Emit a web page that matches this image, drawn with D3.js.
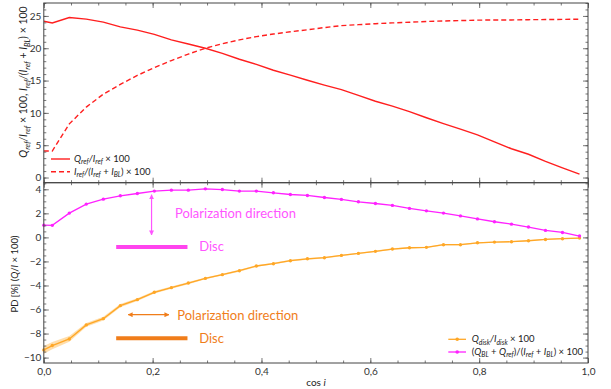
<!DOCTYPE html>
<html>
<head>
<meta charset="utf-8">
<script src="https://cdn.jsdelivr.net/npm/d3@7"></script>
<style>
  body { margin: 0; background: #fff; }
  svg { display: block; }
  .tick line { stroke: #555; stroke-width: 0.8; }
  .tick text { fill: #333; font-family: Lato, "Open Sans", sans-serif; font-size: 10px; }
</style>
</head>
<body>
<svg id="chart" width="611" height="389"></svg>
<script>
// cos i bin centres (first point repeats the innermost bin at cos i = 0)
const cosI = [0, 0.0156, 0.0469, 0.0781, 0.1094, 0.1406, 0.1719, 0.2031, 0.2344, 0.2656,
  0.2969, 0.3281, 0.3594, 0.3906, 0.4219, 0.4531, 0.4844, 0.5156, 0.5469, 0.5781,
  0.6094, 0.6406, 0.6719, 0.7031, 0.7344, 0.7656, 0.7969, 0.8281, 0.8594, 0.8906,
  0.9219, 0.9531, 0.9844];

// upper panel: Q_ref/I_ref x 100 and I_ref/(I_ref+I_BL) x 100
const qRefOverIRef = [24.18, 23.9, 24.75, 24.5, 24.05, 23.3, 22.8, 22.15, 21.3, 20.65,
  20.0, 19.2, 18.3, 17.5, 16.6, 15.85, 15.05, 14.3, 13.6, 12.7,
  11.8, 11.05, 10.2, 9.25, 8.35, 7.5, 6.6, 5.5, 4.45, 3.6,
  2.5, 1.5, 0.53];
const refFraction = [4.1, 4.1, 8.3, 10.9, 12.9, 14.4, 15.8, 17.0, 18.1, 19.1,
  20.0, 20.7, 21.3, 21.8, 22.2, 22.55, 22.85, 23.2, 23.5, 23.65,
  23.8, 23.92, 24.02, 24.15, 24.22, 24.28, 24.35, 24.37, 24.38, 24.42,
  24.44, 24.46, 24.5];

// lower panel: polarization degree [%]
const pdDisk = [-9.36, -9.0, -8.45, -7.28, -6.76, -5.68, -5.18, -4.57, -4.18, -3.80,
  -3.41, -3.10, -2.77, -2.38, -2.19, -1.94, -1.78, -1.69, -1.50, -1.33,
  -1.16, -0.97, -0.86, -0.83, -0.61, -0.61, -0.45, -0.39, -0.36, -0.28,
  -0.17, -0.11, -0.06];
const pdDiskErr = [0.32, 0.3, 0.24, 0.16, 0.15, 0.13, 0.11, 0.1, 0.09, 0.09,
  0.08, 0.08, 0.08, 0.07, 0.07, 0.07, 0.07, 0.06, 0.06, 0.06,
  0.06, 0.06, 0.06, 0.06, 0.06, 0.06, 0.05, 0.05, 0.05, 0.05,
  0.05, 0.05, 0.05];
const pdTotal = [1.02, 1.0, 2.02, 2.77, 3.18, 3.46, 3.65, 3.85, 3.93, 3.93,
  4.04, 3.98, 3.85, 3.85, 3.71, 3.57, 3.49, 3.32, 3.16, 2.96,
  2.82, 2.66, 2.41, 2.21, 2.02, 1.79, 1.54, 1.30, 1.10, 0.86,
  0.58, 0.41, 0.11];

// tick values
const xMajor = [0, 0.2, 0.4, 0.6, 0.8, 1.0];
const xMinor = d3.range(0, 1.0001, 0.05);
const topMajor = [0, 5, 10, 15, 20, 25];
const topMinor = d3.range(0, 27.01, 1);
const botMajor = [-10, -8, -6, -4, -2, 0, 2, 4];
const botMinor = d3.range(-10, 4.51, 0.5);

const C = {
  red: "#ff1f1f",
  magenta: "#ff22ff",
  magentaNote: "#ff55ff",
  magentaBar: "#ff44ee",
  orange: "#ffa726",
  orangeBand: "#ffd89c",
  orangeNote: "#f07d1a",
  frame: "#444"
};

const svg = d3.select("#chart");
const x = d3.scaleLinear().domain([0, 1]).range([43.8, 588]);
const yTop = d3.scaleLinear().domain([-0.8, 27]).range([182.7, 3]);
const yBot = d3.scaleLinear().domain([-10.45, 4.55]).range([363, 182.7]);

const fmtX = d => d3.format(".1f")(d).replace(".", ",");
const fmtY = d3.format("d");

function frame(yS, yMaj, yMin, xLabels) {
  const g = svg.append("g");
  const [yb, yt] = yS.range();
  const [xl, xr] = x.range();
  const put = (axis, tx, ty) => {
    const a = g.append("g").attr("transform", `translate(${tx},${ty})`).call(axis);
    a.select(".domain").remove();
    return a;
  };
  // bottom / top edges
  put(d3.axisBottom(x).tickValues(xMinor).tickSize(-2.5).tickFormat(""), 0, yb);
  put(d3.axisBottom(x).tickValues(xMajor).tickSize(-5).tickPadding(4.5)
      .tickFormat(xLabels ? fmtX : ""), 0, yb);
  put(d3.axisTop(x).tickValues(xMinor).tickSize(-2.5).tickFormat(""), 0, yt);
  put(d3.axisTop(x).tickValues(xMajor).tickSize(-5).tickFormat(""), 0, yt);
  // left / right edges
  put(d3.axisLeft(yS).tickValues(yMin).tickSize(-2.5).tickFormat(""), xl, 0);
  put(d3.axisLeft(yS).tickValues(yMaj).tickSize(-5).tickPadding(2.5).tickFormat(fmtY), xl, 0);
  put(d3.axisRight(yS).tickValues(yMin).tickSize(-2.5).tickFormat(""), xr, 0);
  put(d3.axisRight(yS).tickValues(yMaj).tickSize(-5).tickFormat(""), xr, 0);
  g.append("rect").attr("x", xl).attr("y", yt).attr("width", xr - xl).attr("height", yb - yt)
    .attr("fill", "none").attr("stroke", C.frame).attr("stroke-width", 1);
}

// rich text: parts of [string, kind] where kind n = normal, i = italic, s = italic subscript
function rich(parent, parts, size, attrs) {
  const t = parent.append("text")
    .attr("font-family", "Lato, 'Open Sans', sans-serif")
    .attr("font-size", size).attr("fill", "#222");
  Object.entries(attrs || {}).forEach(([k, v]) => t.attr(k, v));
  let sub = false;
  parts.forEach(([s, k]) => {
    const ts = t.append("tspan").text(s);
    if (k === "s") {
      ts.attr("font-style", "italic").attr("font-size", size * 0.72);
      if (!sub) ts.attr("dy", size * 0.25);
      sub = true;
    } else {
      if (k === "i") ts.attr("font-style", "italic");
      if (sub) ts.attr("dy", -size * 0.25);
      sub = false;
    }
  });
  return t;
}

// ---------- upper panel ----------
svg.append("clipPath").attr("id", "clipTop").append("rect")
  .attr("x", x(0)).attr("y", yTop(27)).attr("width", x(1) - x(0)).attr("height", yTop(-0.8) - yTop(27));
const gTop = svg.append("g").attr("clip-path", "url(#clipTop)");
const lineTop = vals => d3.line().x((d, i) => x(cosI[i])).y(d => yTop(d))(vals);
gTop.append("path").attr("d", lineTop(qRefOverIRef)).attr("fill", "none")
  .attr("stroke", C.red).attr("stroke-width", 1.4);
gTop.append("path").attr("d", lineTop(refFraction)).attr("fill", "none")
  .attr("stroke", C.red).attr("stroke-width", 1.4).attr("stroke-dasharray", "5,3");

frame(yTop, topMajor, topMinor, false);

// upper legend
const lgTop = svg.append("g");
lgTop.append("line").attr("x1", 51).attr("x2", 70).attr("y1", 159).attr("y2", 159)
  .attr("stroke", C.red).attr("stroke-width", 1.4);
lgTop.append("line").attr("x1", 51).attr("x2", 70).attr("y1", 171.7).attr("y2", 171.7)
  .attr("stroke", C.red).attr("stroke-width", 1.4).attr("stroke-dasharray", "5,3");
rich(lgTop, [["Q", "i"], ["ref", "s"], ["/", "i"], ["I", "i"], ["ref", "s"], [" × 100", "n"]], 9.5,
  { x: 74, y: 162 });
rich(lgTop, [["I", "i"], ["ref", "s"], ["/(", "i"], ["I", "i"], ["ref", "s"], [" + ", "n"], ["I", "i"],
  ["BL", "s"], [")", "n"], [" × 100", "n"]], 9.5, { x: 74, y: 174.7 });

// ---------- lower panel ----------
const gBot = svg.append("g");
const bandBot = d3.area().x((d, i) => x(cosI[i]))
  .y0((d, i) => yBot(d - pdDiskErr[i])).y1((d, i) => yBot(d + pdDiskErr[i]));
gBot.append("path").attr("d", bandBot(pdDisk)).attr("fill", C.orangeBand).attr("opacity", 0.85);
const lineBot = vals => d3.line().x((d, i) => x(cosI[i])).y(d => yBot(d))(vals);
gBot.append("path").attr("d", lineBot(pdDisk)).attr("fill", "none")
  .attr("stroke", C.orange).attr("stroke-width", 1.3);
gBot.append("path").attr("d", lineBot(pdTotal)).attr("fill", "none")
  .attr("stroke", C.magenta).attr("stroke-width", 1.3);
gBot.selectAll(".pd").data(pdDisk).join("circle")
  .attr("cx", (d, i) => x(cosI[i])).attr("cy", d => yBot(d)).attr("r", 1.7).attr("fill", C.orange);
gBot.selectAll(".pt").data(pdTotal).join("circle")
  .attr("cx", (d, i) => x(cosI[i])).attr("cy", d => yBot(d)).attr("r", 1.7).attr("fill", C.magenta);

frame(yBot, botMajor, botMinor, true);

// arrow heads
const defs = svg.append("defs");
[["mArr", C.magentaNote], ["oArr", C.orangeNote]].forEach(([id, col]) => {
  defs.append("marker").attr("id", id).attr("viewBox", "0 0 10 10").attr("refX", 9).attr("refY", 5)
    .attr("markerWidth", 5).attr("markerHeight", 5).attr("orient", "auto-start-reverse")
    .attr("markerUnits", "userSpaceOnUse")
    .append("path").attr("d", "M0,0 L10,5 L0,10 z").attr("fill", col);
});

// disc-plane and polarization direction annotations
const note = svg.append("g").attr("font-family", "Lato, 'Open Sans', sans-serif").attr("font-size", 13);
note.append("line").attr("x1", x(0.198)).attr("x2", x(0.198)).attr("y1", yBot(3.55)).attr("y2", yBot(0.2))
  .attr("stroke", C.magentaNote).attr("stroke-width", 1.2)
  .attr("marker-start", "url(#mArr)").attr("marker-end", "url(#mArr)");
note.append("text").attr("x", x(0.241)).attr("y", 217.5).attr("fill", C.magentaNote).text("Polarization direction");
note.append("line").attr("x1", x(0.133)).attr("x2", x(0.264)).attr("y1", yBot(-0.8)).attr("y2", yBot(-0.8))
  .attr("stroke", C.magentaBar).attr("stroke-width", 4);
note.append("text").attr("x", x(0.2855)).attr("y", 250.7).attr("fill", C.magentaNote).text("Disc");

note.append("line").attr("x1", x(0.155)).attr("x2", x(0.23)).attr("y1", yBot(-6.43)).attr("y2", yBot(-6.43))
  .attr("stroke", C.orangeNote).attr("stroke-width", 1.2)
  .attr("marker-start", "url(#oArr)").attr("marker-end", "url(#oArr)");
note.append("text").attr("x", x(0.2453)).attr("y", 319.8).attr("fill", C.orangeNote).text("Polarization direction");
note.append("line").attr("x1", x(0.133)).attr("x2", x(0.264)).attr("y1", yBot(-8.39)).attr("y2", yBot(-8.39))
  .attr("stroke", C.orangeNote).attr("stroke-width", 4);
note.append("text").attr("x", x(0.2855)).attr("y", 342.7).attr("fill", C.orangeNote).text("Disc");

// lower legend
const lgBot = svg.append("g");
[[339.3, C.orange], [352, C.magenta]].forEach(([yy, col]) => {
  lgBot.append("line").attr("x1", 448.3).attr("x2", 466).attr("y1", yy).attr("y2", yy)
    .attr("stroke", col).attr("stroke-width", 1.3);
  lgBot.append("circle").attr("cx", 457.2).attr("cy", yy).attr("r", 1.8).attr("fill", col);
});
rich(lgBot, [["Q", "i"], ["disk", "s"], ["/", "i"], ["I", "i"], ["disk", "s"], [" × 100", "n"]], 9.5,
  { x: 471.7, y: 342.3 });
rich(lgBot, [["(", "n"], ["Q", "i"], ["BL", "s"], [" + ", "n"], ["Q", "i"], ["ref", "s"], [")/(", "n"],
  ["I", "i"], ["ref", "s"], [" + ", "n"], ["I", "i"], ["BL", "s"], [")", "n"], [" × 100", "n"]], 9.5,
  { x: 471.7, y: 355 });

// axis titles
rich(svg, [["cos ", "n"], ["i", "i"]], 10, { x: 316, y: 386, "text-anchor": "middle" });
rich(svg, [["Q", "i"], ["ref", "s"], ["/", "i"], ["I", "i"], ["ref", "s"], [" × 100, ", "n"], ["I", "i"],
  ["ref", "s"], ["/(", "i"], ["I", "i"], ["ref", "s"], [" + ", "n"], ["I", "i"], ["BL", "s"], [")", "n"],
  [" × 100", "n"]], 10.5, { transform: "translate(27,82) rotate(-90)", "text-anchor": "middle" });
rich(svg, [["PD [%] (", "n"], ["Q", "i"], ["/", "n"], ["I", "i"], [" × 100)", "n"]], 9.5,
  { transform: "translate(18,274) rotate(-90)", "text-anchor": "middle" });
</script>
</body>
</html>
